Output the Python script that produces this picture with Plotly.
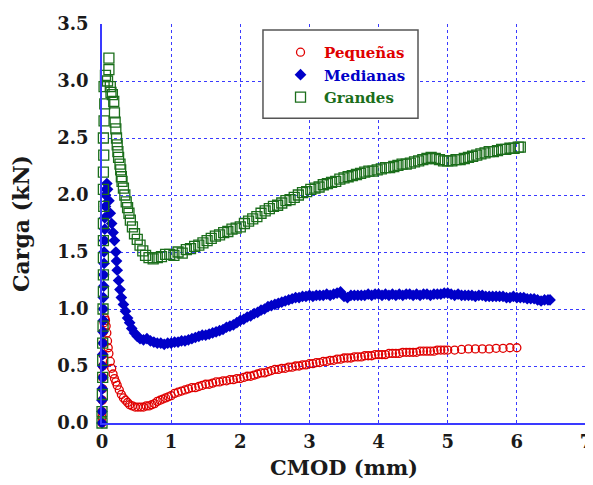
import plotly.graph_objects as go

# ---------------- data ----------------
peq_x = [0.0, 0.0, 0.0, 0.005, 0.01, 0.01, 0.01, 0.015, 0.02, 0.02, 0.03, 0.04, 0.05, 0.06, 0.07, 0.08, 0.09, 0.10,
         0.12, 0.14, 0.16, 0.18, 0.20, 0.22, 0.25, 0.28, 0.31, 0.34, 0.37, 0.40, 0.44, 0.48, 0.52, 0.56, 0.60, 0.64,
         0.68, 0.72, 0.76, 0.80, 0.84, 0.88, 0.92, 0.96, 1.00, 1.05, 1.10, 1.15, 1.20, 1.25, 1.30, 1.35, 1.40, 1.45,
         1.50, 1.55, 1.60, 1.65, 1.70, 1.75, 1.80, 1.85, 1.90, 1.95, 2.00, 2.05, 2.10, 2.15, 2.20, 2.25, 2.30, 2.35,
         2.40, 2.45, 2.50, 2.55, 2.60, 2.65, 2.70, 2.75, 2.80, 2.85, 2.90, 2.95, 3.00, 3.05, 3.10, 3.15, 3.20, 3.25,
         3.30, 3.35, 3.40, 3.45, 3.50, 3.55, 3.60, 3.65, 3.70, 3.75, 3.80, 3.85, 3.90, 3.95, 4.00, 4.05, 4.10, 4.15,
         4.20, 4.25, 4.30, 4.35, 4.40, 4.45, 4.50, 4.55, 4.60, 4.65, 4.70, 4.75, 4.80, 4.85, 4.90, 4.95, 5.00, 5.10,
         5.20, 5.30, 5.40, 5.50, 5.60, 5.70, 5.80, 5.90, 6.00]
peq_y = [0.00, 0.05, 0.10, 0.20, 0.30, 0.40, 0.50, 0.60, 0.70, 0.80, 0.88, 0.92, 0.90, 0.85, 0.79, 0.72, 0.66, 0.61,
         0.54, 0.48, 0.43, 0.39, 0.36, 0.33, 0.29, 0.25, 0.22, 0.20, 0.18, 0.16, 0.15, 0.14, 0.14, 0.14, 0.14, 0.15,
         0.15, 0.16, 0.17, 0.19, 0.20, 0.21, 0.22, 0.23, 0.24, 0.26, 0.27, 0.28, 0.29, 0.30, 0.31, 0.31, 0.32, 0.33,
         0.34, 0.34, 0.35, 0.36, 0.36, 0.37, 0.37, 0.38, 0.38, 0.39, 0.39, 0.40, 0.41, 0.41, 0.42, 0.43, 0.44, 0.44,
         0.45, 0.46, 0.47, 0.47, 0.48, 0.48, 0.49, 0.49, 0.50, 0.50, 0.51, 0.51, 0.52, 0.52, 0.53, 0.53, 0.54, 0.54,
         0.55, 0.55, 0.56, 0.56, 0.57, 0.57, 0.57, 0.58, 0.58, 0.58, 0.59, 0.59, 0.59, 0.60, 0.60, 0.60, 0.60, 0.61,
         0.61, 0.61, 0.61, 0.62, 0.62, 0.62, 0.62, 0.62, 0.63, 0.63, 0.63, 0.63, 0.63, 0.64, 0.64, 0.64, 0.64, 0.64,
         0.645, 0.65, 0.65, 0.65, 0.65, 0.655, 0.655, 0.66, 0.66]

med_x = [0.0, 0.0, 0.0, 0.005, 0.01, 0.01, 0.01, 0.015, 0.015, 0.02, 0.02, 0.02, 0.025, 0.025, 0.03, 0.03, 0.035,
         0.04, 0.04, 0.05, 0.05, 0.06, 0.07, 0.08, 0.10, 0.12, 0.14, 0.16, 0.18, 0.20, 0.21, 0.22, 0.24, 0.26, 0.28,
         0.31, 0.34, 0.37, 0.40, 0.43, 0.47, 0.51, 0.55, 0.60, 0.65, 0.70, 0.75, 0.80, 0.85, 0.90, 0.95, 1.00, 1.05,
         1.10, 1.15, 1.20, 1.25, 1.30, 1.35, 1.40, 1.45, 1.50, 1.55, 1.60, 1.65, 1.70, 1.75, 1.80, 1.85, 1.90, 1.95,
         2.00, 2.05, 2.10, 2.15, 2.20, 2.25, 2.30, 2.35, 2.40, 2.45, 2.50, 2.55, 2.60, 2.65, 2.70, 2.75, 2.80, 2.85,
         2.90, 2.95, 3.00, 3.05, 3.10, 3.15, 3.20, 3.25, 3.30, 3.35, 3.40, 3.45, 3.50, 3.55, 3.60, 3.65, 3.70, 3.75,
         3.80, 3.85, 3.90, 3.95, 4.00, 4.05, 4.10, 4.15, 4.20, 4.25, 4.30, 4.35, 4.40, 4.45, 4.50, 4.55, 4.60, 4.65,
         4.70, 4.75, 4.80, 4.85, 4.90, 4.95, 5.00, 5.05, 5.10, 5.15, 5.20, 5.25, 5.30, 5.35, 5.40, 5.45, 5.50, 5.55,
         5.60, 5.65, 5.70, 5.75, 5.80, 5.85, 5.90, 5.95, 6.00, 6.05, 6.10, 6.15, 6.20, 6.25, 6.30, 6.35, 6.40, 6.45,
         6.48]
med_y = [0.00, 0.10, 0.20, 0.30, 0.40, 0.50, 0.60, 0.70, 0.80, 0.90, 1.00, 1.10, 1.20, 1.30, 1.40, 1.50, 1.60,
         1.70, 1.80, 1.90, 2.00, 2.05, 2.10, 2.05, 1.95, 1.84, 1.75, 1.67, 1.60, 1.50, 1.42, 1.34, 1.25, 1.17, 1.10,
         1.04, 0.98, 0.92, 0.88, 0.83, 0.79, 0.76, 0.74, 0.73, 0.74, 0.72, 0.71, 0.70, 0.70, 0.69, 0.70, 0.70, 0.71,
         0.71, 0.72, 0.72, 0.73, 0.74, 0.75, 0.76, 0.77, 0.77, 0.78, 0.79, 0.80, 0.81, 0.82, 0.84, 0.85, 0.86, 0.88,
         0.90, 0.91, 0.93, 0.94, 0.96, 0.97, 0.99, 1.00, 1.02, 1.03, 1.04, 1.05, 1.06, 1.07, 1.08, 1.09, 1.10, 1.10,
         1.11, 1.11, 1.12, 1.11, 1.12, 1.12, 1.12, 1.13, 1.12, 1.13, 1.14, 1.15, 1.11, 1.10, 1.12, 1.12, 1.12, 1.12,
         1.12, 1.13, 1.12, 1.13, 1.13, 1.12, 1.13, 1.12, 1.13, 1.12, 1.13, 1.12, 1.13, 1.13, 1.12, 1.13, 1.12, 1.13,
         1.13, 1.12, 1.13, 1.13, 1.13, 1.14, 1.14, 1.13, 1.12, 1.13, 1.12, 1.12, 1.12, 1.12, 1.11, 1.12, 1.12, 1.11,
         1.11, 1.11, 1.11, 1.11, 1.11, 1.10, 1.10, 1.11, 1.10, 1.10, 1.10, 1.09, 1.09, 1.09, 1.08, 1.07, 1.08, 1.08,
         1.08]

gra_x = [0.0, 0.0, 0.005, 0.01, 0.01, 0.01, 0.015, 0.015, 0.02, 0.02, 0.02, 0.02, 0.02, 0.025, 0.02, 0.02, 0.025,
         0.02, 0.03, 0.04, 0.03, 0.05, 0.08, 0.10, 0.10, 0.12, 0.13, 0.15, 0.17, 0.18, 0.19, 0.20, 0.21, 0.22, 0.23,
         0.24, 0.26, 0.27, 0.28, 0.29, 0.31, 0.33, 0.35, 0.37, 0.39, 0.41, 0.44, 0.47, 0.51, 0.55, 0.59, 0.63, 0.68,
         0.74, 0.80, 0.86, 0.92, 0.98, 1.04, 1.10, 1.16, 1.22, 1.28, 1.34, 1.40, 1.46, 1.52, 1.58, 1.64, 1.70, 1.76,
         1.82, 1.88, 1.94, 2.00, 2.06, 2.12, 2.18, 2.24, 2.30, 2.36, 2.42, 2.48, 2.54, 2.60, 2.66, 2.72, 2.78, 2.84,
         2.90, 2.96, 3.02, 3.08, 3.14, 3.20, 3.26, 3.32, 3.38, 3.44, 3.50, 3.56, 3.62, 3.68, 3.74, 3.80, 3.86, 3.92,
         3.98, 4.04, 4.10, 4.16, 4.22, 4.28, 4.34, 4.40, 4.46, 4.52, 4.58, 4.64, 4.70, 4.76, 4.82, 4.88, 4.94, 5.00,
         5.06, 5.12, 5.18, 5.24, 5.30, 5.36, 5.42, 5.48, 5.54, 5.60, 5.66, 5.72, 5.78, 5.84, 5.90, 5.96, 6.02, 6.05]
gra_y = [0.00, 0.10, 0.25, 0.40, 0.55, 0.70, 0.85, 1.00, 1.15, 1.30, 1.45, 1.60, 1.75, 1.90, 2.05, 2.20, 2.35,
         2.50, 2.65, 2.80, 2.95, 3.05, 3.00, 3.20, 3.10, 2.95, 2.90, 2.88, 2.82, 2.72, 2.64, 2.58, 2.50, 2.44, 2.38,
         2.33, 2.27, 2.22, 2.16, 2.12, 2.06, 2.00, 1.94, 1.89, 1.84, 1.78, 1.72, 1.66, 1.61, 1.56, 1.51, 1.47, 1.45,
         1.44, 1.45, 1.46, 1.48, 1.48, 1.47, 1.50, 1.49, 1.52, 1.53, 1.55, 1.56, 1.58, 1.60, 1.62, 1.64, 1.65, 1.67,
         1.68, 1.70, 1.71, 1.72, 1.75, 1.77, 1.79, 1.81, 1.84, 1.86, 1.88, 1.90, 1.91, 1.93, 1.95, 1.96, 1.98, 2.00,
         2.02, 2.03, 2.05, 2.06, 2.07, 2.09, 2.10, 2.11, 2.12, 2.14, 2.15, 2.16, 2.17, 2.18, 2.19, 2.20, 2.21, 2.21,
         2.22, 2.23, 2.24, 2.24, 2.25, 2.26, 2.27, 2.27, 2.28, 2.29, 2.30, 2.31, 2.32, 2.33, 2.32, 2.31, 2.30, 2.30,
         2.30, 2.31, 2.31, 2.32, 2.33, 2.34, 2.35, 2.36, 2.37, 2.38, 2.38, 2.39, 2.40, 2.40, 2.41, 2.41, 2.42, 2.42]

x_ticks = [0, 1, 2, 3, 4, 5, 6, 7]
y_ticks = [0.0, 0.5, 1.0, 1.5, 2.0, 2.5, 3.0, 3.5]
y_tick_labels = ["0.0", "0.5", "1.0", "1.5", "2.0", "2.5", "3.0", "3.5"]

# ---------------- styling ----------------
RED = "#e00000"
BLUE = "#0000c8"
GREEN = "#1b6e1b"
GRID = "#3a3aff"
TXT = "#1a1a1a"
FONT = "DejaVu Serif"

fig = go.Figure()
fig.add_trace(go.Scatter(
    x=peq_x, y=peq_y, mode="markers", cliponaxis=False,
    name='<span style="color:%s">Pequeñas</span>' % RED,
    marker=dict(symbol="circle-open", size=8, color=RED, line=dict(width=1.3, color=RED)),
))
fig.add_trace(go.Scatter(
    x=med_x, y=med_y, mode="markers", cliponaxis=False,
    name='<span style="color:%s">Medianas</span>' % BLUE,
    marker=dict(symbol="diamond", size=9, color=BLUE, line=dict(width=0)),
))
fig.add_trace(go.Scatter(
    x=gra_x, y=gra_y, mode="markers", cliponaxis=False,
    name='<span style="color:%s">Grandes</span>' % GREEN,
    marker=dict(symbol="square-open", size=10, color=GREEN, line=dict(width=1.3, color=GREEN)),
))

axis_common = dict(
    showgrid=True, gridcolor=GRID, griddash="dot", gridwidth=1,
    showline=True, linecolor=GRID, linewidth=1.5,
    zeroline=False, ticks="outside", tickcolor="rgba(0,0,0,0)",
    ticklabeloverflow="allow",
    tickfont=dict(family=FONT, size=18, color=TXT, weight="bold"),
)

fig.update_xaxes(
    range=[0, 7], tickvals=x_ticks, ticktext=[str(v) for v in x_ticks], ticklen=2,
    title=dict(text="<b>CMOD (mm)</b>", font=dict(family=FONT, size=21, color=TXT), standoff=9),
    **axis_common,
)
fig.update_yaxes(
    range=[0, 3.5], tickvals=y_ticks, ticktext=y_tick_labels, ticklen=8,
    title=dict(text="<b>Carga (kN)</b>", font=dict(family=FONT, size=22, color=TXT), standoff=24),
    **axis_common,
)

# legend frame (drawn as a shape so the legend entries can sit inside it freely)
fig.add_shape(type="rect", xref="paper", yref="paper", x0=0.3326, x1=0.6529, y0=0.764, y1=0.985,
              fillcolor="white", line=dict(color="#555555", width=1.5), layer="above")

fig.update_layout(
    width=585, height=477,
    margin=dict(l=94, r=7, t=16, b=62, autoexpand=False),
    plot_bgcolor="white", paper_bgcolor="white",
    font=dict(family=FONT, size=15),
    legend=dict(
        x=0.3616, y=0.970, xanchor="left", yanchor="top",
        bgcolor="rgba(0,0,0,0)", borderwidth=0,
        font=dict(family=FONT, size=15, weight="bold"),
        itemwidth=37,
    ),
    showlegend=True,
)

fig.write_html("out.html")
